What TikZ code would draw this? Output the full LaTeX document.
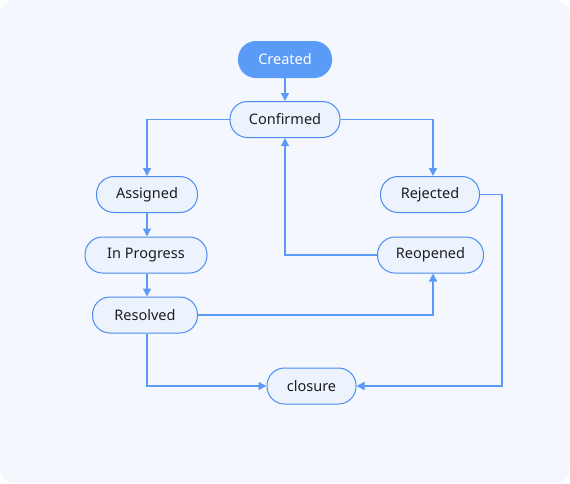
\documentclass[tikz,border=0pt]{standalone}
\usepackage{fontspec}
\setmainfont{Noto Sans}
\usetikzlibrary{arrows.meta}
\definecolor{bgc}{HTML}{F4F8FE}
\definecolor{linec}{HTML}{5B9BF7}
\definecolor{borderc}{HTML}{4A8BF4}
\definecolor{nodefill}{HTML}{EDF3FD}
\definecolor{createdc}{HTML}{5A9BF8}
\definecolor{textc}{HTML}{1A1D22}
\begin{document}
\begin{tikzpicture}[x=1pt,y=-1pt,
  state/.style={draw=borderc, line width=1pt, fill=nodefill, rounded corners=17.5pt,
    minimum height=36pt, inner sep=0pt, text=textc, font=\fontsize{14.5}{17}\selectfont},
  startstate/.style={state, draw=createdc, fill=createdc, text=white},
  conn/.style={draw=linec, line width=1.4pt, -{Triangle[length=8pt,width=8pt]}}
]
\useasboundingbox (0,0) rectangle (570,483);
\fill[white] (0,0) rectangle (570,483);
\fill[bgc, rounded corners=15pt] (0,0) rectangle (570,483);

\node[startstate, minimum width=93pt] (created) at (285,59.5) {Created};
\node[state, minimum width=110pt] (confirmed) at (285,119.5) {Confirmed};
\node[state, minimum width=101pt] (assigned) at (147,194.5) {Assigned};
\node[state, minimum width=99pt] (rejected) at (430,194.5) {Rejected};
\node[state, minimum width=122pt] (inprogress) at (146,255) {In Progress};
\node[state, minimum width=106pt] (reopened) at (430.5,255) {Reopened};
\node[state, minimum width=105pt] (resolved) at (145,315) {Resolved};
\node[state, minimum width=89pt] (closure) at (311.5,386) {closure};

\coordinate (cA) at (147,119.5);
\coordinate (cR) at (433,119.5);
\coordinate (rsR) at (433,315);
\coordinate (roL) at (285,255);
\coordinate (rsD) at (147,386);
\coordinate (rjR) at (502,194.5);
\coordinate (rjD) at (502,386);

\draw[conn] (created.south) -- (confirmed.north);
\draw[conn] (confirmed.west) -- (cA) -- (assigned.north -| cA);
\draw[conn] (confirmed.east) -- (cR) -- (rejected.north -| cR);
\draw[conn] (assigned.south -| cA) -- (inprogress.north -| cA);
\draw[conn] (inprogress.south -| cA) -- (resolved.north -| cA);
\draw[conn] (resolved.east) -- (rsR) -- (reopened.south -| rsR);
\draw[conn] (reopened.west) -- (roL) -- (confirmed.south);
\draw[conn] (resolved.south -| rsD) -- (rsD) -- (closure.west);
\draw[conn] (rejected.east) -- (rjR) -- (rjD) -- (closure.east);
\end{tikzpicture}
\end{document}
